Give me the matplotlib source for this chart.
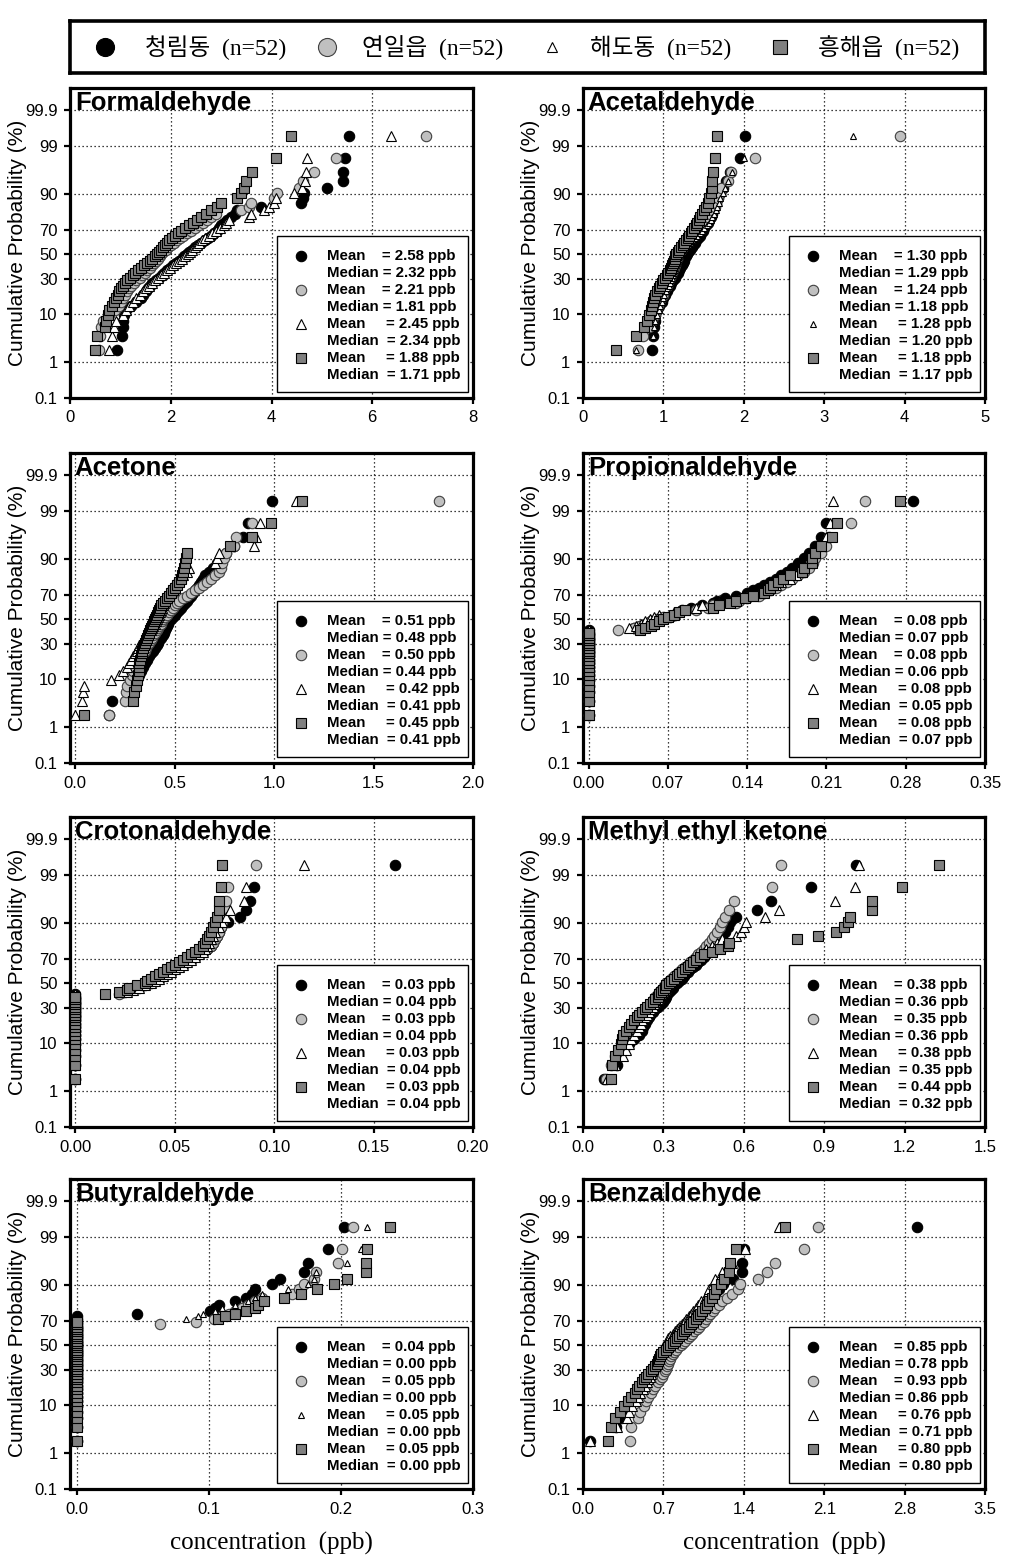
import numpy as np
import matplotlib
matplotlib.use("Agg")
import matplotlib.pyplot as plt
from matplotlib.patches import Rectangle
from statistics import NormalDist

# ---- data (sorted concentrations, ppb; 52 samples per site) ----
N = 52
TOP_PCT = 99.43  # where the 100 % point ends up on the probability axis

form_cr = [0.94, 1.03, 1.05, 1.06, 1.08, 1.12, 1.22, 1.32, 1.40, 1.45,
           1.50, 1.54, 1.58, 1.63, 1.70, 1.76, 1.82, 1.87, 1.92, 1.98,
           2.04, 2.10, 2.16, 2.22, 2.27, 2.32, 2.37, 2.42, 2.48, 2.54,
           2.60, 2.67, 2.73, 2.80, 2.86, 2.92, 2.96, 3.00, 3.05, 3.12,
           3.20, 3.27, 3.32, 3.80, 4.58, 4.62, 4.65, 5.10, 5.41, 5.41,
           5.45, 5.54]
form_yi = [0.58, 0.60, 0.62, 0.66, 0.78, 0.90, 0.98, 1.02, 1.06, 1.10,
           1.14, 1.18, 1.22, 1.27, 1.32, 1.38, 1.43, 1.48, 1.53, 1.58,
           1.62, 1.66, 1.70, 1.74, 1.78, 1.81, 1.85, 1.90, 1.95, 2.00,
           2.06, 2.12, 2.18, 2.25, 2.32, 2.40, 2.48, 2.56, 2.64, 2.72,
           2.80, 2.90, 3.40, 3.55, 3.60, 4.05, 4.10, 4.55, 4.62, 4.85,
           5.28, 7.07]
form_hd = [0.78, 0.83, 0.88, 0.92, 1.05, 1.12, 1.18, 1.25, 1.32, 1.38,
           1.44, 1.50, 1.56, 1.62, 1.68, 1.74, 1.80, 1.87, 1.93, 1.99,
           2.04, 2.10, 2.16, 2.22, 2.28, 2.34, 2.38, 2.43, 2.48, 2.52,
           2.57, 2.62, 2.68, 2.75, 2.82, 2.90, 2.98, 3.05, 3.10, 3.15,
           3.55, 3.60, 3.85, 3.95, 4.05, 4.08, 4.45, 4.60, 4.66, 4.68,
           4.70, 6.37]
form_hh = [0.50, 0.53, 0.70, 0.72, 0.75, 0.78, 0.83, 0.88, 0.92, 0.95,
           0.98, 1.02, 1.06, 1.10, 1.14, 1.20, 1.25, 1.30, 1.35, 1.40,
           1.46, 1.52, 1.58, 1.63, 1.68, 1.72, 1.76, 1.80, 1.84, 1.88,
           1.92, 1.97, 2.02, 2.08, 2.14, 2.20, 2.28, 2.36, 2.44, 2.52,
           2.60, 2.70, 2.80, 2.92, 3.00, 3.32, 3.40, 3.45, 3.50, 3.62,
           4.08, 4.39]

acet_cr = [0.86, 0.87, 0.88, 0.89, 0.90, 0.92, 0.95, 0.98, 1.00, 1.02,
           1.04, 1.06, 1.08, 1.10, 1.12, 1.14, 1.16, 1.18, 1.20, 1.21,
           1.23, 1.24, 1.25, 1.26, 1.28, 1.29, 1.31, 1.33, 1.35, 1.37,
           1.39, 1.41, 1.43, 1.45, 1.47, 1.49, 1.51, 1.53, 1.55, 1.57,
           1.59, 1.60, 1.61, 1.62, 1.65, 1.68, 1.71, 1.74, 1.78, 1.83,
           1.95, 2.02]
acet_yi = [0.68, 0.75, 0.82, 0.86, 0.89, 0.91, 0.93, 0.95, 0.97, 0.99,
           1.00, 1.02, 1.04, 1.05, 1.07, 1.08, 1.10, 1.11, 1.12, 1.13,
           1.14, 1.15, 1.16, 1.17, 1.17, 1.18, 1.20, 1.22, 1.24, 1.26,
           1.28, 1.30, 1.32, 1.34, 1.35, 1.37, 1.40, 1.44, 1.48, 1.52,
           1.55, 1.58, 1.61, 1.64, 1.66, 1.68, 1.70, 1.72, 1.80, 1.84,
           2.14, 3.94]
acet_hd = [0.66, 0.87, 0.88, 0.89, 0.92, 0.94, 0.96, 0.98, 1.00, 1.01,
           1.03, 1.05, 1.07, 1.08, 1.10, 1.11, 1.12, 1.13, 1.14, 1.15,
           1.16, 1.17, 1.18, 1.19, 1.20, 1.20, 1.22, 1.24, 1.27, 1.30,
           1.33, 1.36, 1.39, 1.42, 1.45, 1.48, 1.51, 1.54, 1.57, 1.59,
           1.61, 1.63, 1.65, 1.67, 1.69, 1.71, 1.74, 1.77, 1.80, 1.85,
           2.00, 3.36]
acet_hh = [0.41, 0.66, 0.76, 0.79, 0.82, 0.84, 0.86, 0.87, 0.88, 0.90,
           0.92, 0.94, 0.96, 0.98, 1.00, 1.02, 1.04, 1.06, 1.08, 1.09,
           1.11, 1.12, 1.13, 1.14, 1.15, 1.16, 1.18, 1.20, 1.22, 1.24,
           1.26, 1.28, 1.30, 1.32, 1.34, 1.36, 1.38, 1.40, 1.42, 1.44,
           1.46, 1.48, 1.50, 1.53, 1.55, 1.57, 1.59, 1.60, 1.61, 1.62,
           1.64, 1.67]

acetone_cr = [0.17, 0.185, 0.28, 0.30, 0.31, 0.32, 0.33, 0.34, 0.35, 0.36,
              0.37, 0.38, 0.39, 0.40, 0.41, 0.415, 0.42, 0.43, 0.44, 0.445,
              0.45, 0.455, 0.46, 0.465, 0.47, 0.48, 0.49, 0.50, 0.51, 0.52,
              0.53, 0.54, 0.55, 0.56, 0.57, 0.58, 0.59, 0.60, 0.61, 0.62,
              0.63, 0.64, 0.65, 0.67, 0.69, 0.71, 0.73, 0.76, 0.80, 0.845,
              0.87, 0.99]
acetone_yi = [0.17, 0.25, 0.255, 0.26, 0.275, 0.285, 0.29, 0.30, 0.31, 0.32,
              0.33, 0.34, 0.35, 0.355, 0.36, 0.37, 0.38, 0.385, 0.39, 0.40,
              0.41, 0.415, 0.42, 0.43, 0.435, 0.44, 0.45, 0.46, 0.47, 0.48,
              0.49, 0.50, 0.51, 0.52, 0.54, 0.56, 0.58, 0.60, 0.62, 0.64,
              0.66, 0.68, 0.70, 0.72, 0.73, 0.74, 0.75, 0.76, 0.80, 0.81,
              0.89, 1.83]
acetone_hd = [0.00, 0.035, 0.038, 0.045, 0.18, 0.22, 0.24, 0.26, 0.27, 0.28,
              0.29, 0.30, 0.31, 0.315, 0.32, 0.33, 0.34, 0.35, 0.36, 0.37,
              0.38, 0.385, 0.39, 0.40, 0.405, 0.41, 0.415, 0.42, 0.425, 0.43,
              0.435, 0.44, 0.445, 0.45, 0.455, 0.46, 0.465, 0.47, 0.48, 0.49,
              0.50, 0.52, 0.54, 0.56, 0.57, 0.70, 0.71, 0.72, 0.90, 0.91,
              0.93, 1.11]
acetone_hh = [0.045, 0.29, 0.295, 0.305, 0.31, 0.315, 0.318, 0.32, 0.322, 0.325,
              0.33, 0.333, 0.336, 0.34, 0.345, 0.35, 0.355, 0.36, 0.365, 0.37,
              0.375, 0.38, 0.385, 0.39, 0.395, 0.40, 0.405, 0.41, 0.415, 0.42,
              0.425, 0.43, 0.44, 0.45, 0.46, 0.47, 0.48, 0.49, 0.50, 0.51,
              0.52, 0.53, 0.535, 0.54, 0.545, 0.55, 0.555, 0.56, 0.78, 0.89,
              0.985, 1.14]

prop_cr = [0.0] * 21 + [0.04, 0.045, 0.05, 0.055, 0.065, 0.072, 0.076, 0.08, 0.082, 0.09,
                        0.10, 0.11, 0.113, 0.12, 0.13, 0.14, 0.145, 0.15, 0.155, 0.16,
                        0.165, 0.17, 0.175, 0.18, 0.185, 0.19, 0.195, 0.20, 0.205, 0.21,
                        0.286]
prop_yi = [0.0] * 20 + [0.026, 0.04, 0.045, 0.05, 0.055, 0.06, 0.066, 0.075, 0.08, 0.095,
                        0.105, 0.11, 0.13, 0.133, 0.14, 0.15, 0.155, 0.16, 0.165, 0.17,
                        0.175, 0.18, 0.185, 0.19, 0.195, 0.198, 0.20, 0.205, 0.21, 0.212,
                        0.232, 0.244]
prop_hd = [0.0] * 21 + [0.036, 0.042, 0.046, 0.05, 0.054, 0.058, 0.062, 0.075, 0.085, 0.095,
                        0.10, 0.115, 0.125, 0.135, 0.145, 0.15, 0.155, 0.16, 0.165, 0.17,
                        0.178, 0.183, 0.188, 0.19, 0.193, 0.196, 0.20, 0.205, 0.21, 0.213,
                        0.216]
prop_hh = [0.0] * 20 + [0.045, 0.05, 0.055, 0.058, 0.062, 0.066, 0.07, 0.075, 0.08, 0.085,
                        0.11, 0.115, 0.125, 0.13, 0.138, 0.145, 0.155, 0.158, 0.16, 0.163,
                        0.167, 0.172, 0.178, 0.188, 0.19, 0.197, 0.197, 0.20, 0.205, 0.215,
                        0.219, 0.275]

crot_cr = [0.0] * 21 + [0.024, 0.027, 0.03, 0.034, 0.037, 0.04, 0.042, 0.044, 0.046, 0.048,
                        0.05, 0.052, 0.054, 0.056, 0.058, 0.06, 0.062, 0.064, 0.066, 0.068,
                        0.069, 0.07, 0.071, 0.072, 0.073, 0.077, 0.083, 0.086, 0.088, 0.090,
                        0.161]
crot_yi = [0.0] * 20 + [0.022, 0.025, 0.028, 0.032, 0.035, 0.038, 0.04, 0.042, 0.044, 0.046,
                        0.048, 0.05, 0.052, 0.054, 0.056, 0.058, 0.06, 0.062, 0.064, 0.066,
                        0.068, 0.069, 0.07, 0.071, 0.072, 0.073, 0.074, 0.075, 0.076, 0.076,
                        0.077, 0.091]
crot_hd = [0.0] * 21 + [0.026, 0.029, 0.032, 0.035, 0.038, 0.04, 0.042, 0.044, 0.046, 0.048,
                        0.05, 0.052, 0.054, 0.056, 0.058, 0.06, 0.062, 0.064, 0.065, 0.066,
                        0.067, 0.068, 0.069, 0.07, 0.072, 0.074, 0.076, 0.078, 0.085, 0.086,
                        0.115]
crot_hh = [0.0] * 20 + [0.015, 0.022, 0.026, 0.027, 0.031, 0.035, 0.036, 0.038, 0.040, 0.042,
                        0.044, 0.046, 0.048, 0.05, 0.052, 0.054, 0.056, 0.058, 0.06, 0.062,
                        0.064, 0.065, 0.066, 0.067, 0.068, 0.069, 0.070, 0.071, 0.072, 0.072,
                        0.073, 0.074]

mek_cr = [0.08, 0.125, 0.13, 0.15, 0.17, 0.19, 0.21, 0.22, 0.225, 0.23,
          0.24, 0.245, 0.25, 0.26, 0.27, 0.28, 0.29, 0.30, 0.305, 0.31,
          0.315, 0.32, 0.33, 0.335, 0.34, 0.35, 0.36, 0.37, 0.375, 0.38,
          0.39, 0.40, 0.41, 0.42, 0.43, 0.44, 0.45, 0.46, 0.47, 0.48,
          0.49, 0.50, 0.51, 0.52, 0.53, 0.54, 0.55, 0.57, 0.65, 0.70,
          0.85, 1.02]
mek_yi = [0.087, 0.105, 0.12, 0.14, 0.16, 0.17, 0.18, 0.19, 0.195, 0.20,
          0.21, 0.215, 0.22, 0.23, 0.24, 0.25, 0.255, 0.26, 0.265, 0.27,
          0.28, 0.285, 0.29, 0.30, 0.305, 0.31, 0.32, 0.33, 0.34, 0.35,
          0.36, 0.37, 0.38, 0.39, 0.40, 0.41, 0.42, 0.43, 0.44, 0.45,
          0.46, 0.47, 0.48, 0.49, 0.50, 0.51, 0.52, 0.53, 0.545, 0.565,
          0.705, 0.74]
mek_hd = [0.09, 0.12, 0.15, 0.16, 0.17, 0.18, 0.19, 0.20, 0.21, 0.215,
          0.22, 0.23, 0.24, 0.245, 0.25, 0.26, 0.265, 0.27, 0.28, 0.285,
          0.29, 0.30, 0.305, 0.31, 0.315, 0.32, 0.33, 0.34, 0.35, 0.36,
          0.37, 0.38, 0.39, 0.40, 0.41, 0.42, 0.43, 0.44, 0.45, 0.46,
          0.48, 0.50, 0.52, 0.57, 0.59, 0.60, 0.61, 0.68, 0.73, 0.94,
          1.015, 1.03]
mek_hh = [0.105, 0.11, 0.118, 0.13, 0.14, 0.145, 0.15, 0.16, 0.17, 0.18,
          0.19, 0.20, 0.21, 0.22, 0.23, 0.24, 0.25, 0.26, 0.27, 0.28,
          0.285, 0.29, 0.30, 0.305, 0.31, 0.32, 0.33, 0.34, 0.35, 0.36,
          0.37, 0.38, 0.39, 0.40, 0.41, 0.42, 0.435, 0.45, 0.48, 0.51,
          0.54, 0.545, 0.80, 0.875, 0.945, 0.975, 0.99, 0.995, 1.08, 1.08,
          1.19, 1.327]

buty_cr = [0.0] * 38 + [0.046, 0.101, 0.105, 0.108, 0.12, 0.128, 0.133, 0.135, 0.148, 0.154,
                        0.172, 0.175, 0.19, 0.2025]
buty_yi = [0.0] * 34 + [0.063, 0.09, 0.104, 0.11, 0.115, 0.12, 0.125, 0.13, 0.135, 0.14,
                        0.163, 0.168, 0.172, 0.18, 0.181, 0.198, 0.201, 0.209]
buty_hd = [0.0] * 36 + [0.083, 0.092, 0.096, 0.105, 0.11, 0.12, 0.13, 0.135, 0.14, 0.16,
                        0.175, 0.18, 0.181, 0.205, 0.215, 0.22]
buty_hh = [0.0] * 36 + [0.107, 0.112, 0.12, 0.128, 0.135, 0.137, 0.142, 0.157, 0.17, 0.182,
                        0.195, 0.205, 0.219, 0.219, 0.22, 0.237]

benz_cr = [0.06, 0.29, 0.33, 0.36, 0.39, 0.42, 0.45, 0.48, 0.51, 0.53,
           0.55, 0.57, 0.59, 0.61, 0.63, 0.65, 0.66, 0.67, 0.68, 0.69,
           0.70, 0.72, 0.73, 0.74, 0.76, 0.78, 0.79, 0.80, 0.82, 0.84,
           0.86, 0.88, 0.90, 0.92, 0.94, 0.96, 0.98, 1.00, 1.02, 1.04,
           1.06, 1.08, 1.10, 1.12, 1.15, 1.18, 1.22, 1.31, 1.38, 1.38,
           1.40, 2.91]
benz_yi = [0.41, 0.42, 0.48, 0.50, 0.53, 0.55, 0.57, 0.59, 0.61, 0.63,
           0.65, 0.67, 0.69, 0.70, 0.71, 0.72, 0.73, 0.74, 0.75, 0.76,
           0.77, 0.78, 0.79, 0.81, 0.83, 0.85, 0.87, 0.89, 0.91, 0.93,
           0.95, 0.97, 0.99, 1.01, 1.03, 1.05, 1.07, 1.09, 1.11, 1.13,
           1.15, 1.18, 1.21, 1.25, 1.30, 1.35, 1.37, 1.52, 1.60, 1.67,
           1.92, 2.05]
benz_hd = [0.06, 0.30, 0.38, 0.40, 0.43, 0.46, 0.48, 0.50, 0.52, 0.54,
           0.56, 0.57, 0.58, 0.59, 0.60, 0.61, 0.62, 0.63, 0.64, 0.65,
           0.66, 0.67, 0.68, 0.69, 0.70, 0.71, 0.72, 0.73, 0.74, 0.76,
           0.78, 0.80, 0.82, 0.84, 0.86, 0.88, 0.90, 0.92, 0.94, 0.96,
           0.98, 1.00, 1.03, 1.06, 1.08, 1.10, 1.13, 1.15, 1.21, 1.30,
           1.41, 1.71]
benz_hh = [0.22, 0.24, 0.28, 0.32, 0.36, 0.39, 0.42, 0.45, 0.47, 0.49,
           0.51, 0.53, 0.55, 0.57, 0.59, 0.61, 0.63, 0.64, 0.65, 0.66,
           0.67, 0.68, 0.70, 0.72, 0.74, 0.76, 0.78, 0.80, 0.82, 0.84,
           0.86, 0.88, 0.90, 0.92, 0.94, 0.96, 0.98, 1.00, 1.02, 1.04,
           1.06, 1.08, 1.10, 1.12, 1.14, 1.16, 1.20, 1.23, 1.27, 1.28,
           1.33, 1.76]

# (mean, median) per site, order: 청림동, 연일읍, 해도동, 흥해읍
form_stats = [(2.58, 2.32), (2.21, 1.81), (2.45, 2.34), (1.88, 1.71)]
acet_stats = [(1.30, 1.29), (1.24, 1.18), (1.28, 1.20), (1.18, 1.17)]
acetone_stats = [(0.51, 0.48), (0.50, 0.44), (0.42, 0.41), (0.45, 0.41)]
prop_stats = [(0.08, 0.07), (0.08, 0.06), (0.08, 0.05), (0.08, 0.07)]
crot_stats = [(0.03, 0.04), (0.03, 0.04), (0.03, 0.04), (0.03, 0.04)]
mek_stats = [(0.38, 0.36), (0.35, 0.36), (0.38, 0.35), (0.44, 0.32)]
buty_stats = [(0.04, 0.00), (0.05, 0.00), (0.05, 0.00), (0.05, 0.00)]
benz_stats = [(0.85, 0.78), (0.93, 0.86), (0.76, 0.71), (0.80, 0.80)]

sites = ["청림동", "연일읍", "해도동", "흥해읍"]
prob_ticks = [0.1, 1, 10, 30, 50, 70, 90, 99, 99.9]
prob_labels = ["0.1", "1", "10", "30", "50", "70", "90", "99", "99.9"]

# title, series, stats, xlim, xticks, tick format, small triangles?
panels = [
    ("Formaldehyde", [form_cr, form_yi, form_hd, form_hh], form_stats,
     (0, 8), [0, 2, 4, 6, 8], "{:.0f}", False),
    ("Acetaldehyde", [acet_cr, acet_yi, acet_hd, acet_hh], acet_stats,
     (0, 5), [0, 1, 2, 3, 4, 5], "{:.0f}", True),
    ("Acetone", [acetone_cr, acetone_yi, acetone_hd, acetone_hh], acetone_stats,
     (-0.027, 2.0), [0.0, 0.5, 1.0, 1.5, 2.0], "{:.1f}", False),
    ("Propionaldehyde", [prop_cr, prop_yi, prop_hd, prop_hh], prop_stats,
     (-0.005, 0.35), [0.0, 0.07, 0.14, 0.21, 0.28, 0.35], "{:.2f}", False),
    ("Crotonaldehyde", [crot_cr, crot_yi, crot_hd, crot_hh], crot_stats,
     (-0.0027, 0.20), [0.0, 0.05, 0.10, 0.15, 0.20], "{:.2f}", False),
    ("Methyl ethyl ketone", [mek_cr, mek_yi, mek_hd, mek_hh], mek_stats,
     (0, 1.5), [0.0, 0.3, 0.6, 0.9, 1.2, 1.5], "{:.1f}", False),
    ("Butyraldehyde", [buty_cr, buty_yi, buty_hd, buty_hh], buty_stats,
     (-0.005, 0.3), [0.0, 0.1, 0.2, 0.3], "{:.1f}", True),
    ("Benzaldehyde", [benz_cr, benz_yi, benz_hd, benz_hh], benz_stats,
     (0, 3.5), [0.0, 0.7, 1.4, 2.1, 2.8, 3.5], "{:.1f}", False),
]

# ---- normal probability scale ----
_nd = NormalDist()
_ppf = np.vectorize(_nd.inv_cdf, otypes=[float])
_cdf = np.vectorize(_nd.cdf, otypes=[float])


def pct_to_z(p):
    p = np.clip(np.asarray(p, dtype=float) / 100.0, 1e-9, 1 - 1e-9)
    return _ppf(p)


def z_to_pct(z):
    return 100.0 * _cdf(np.asarray(z, dtype=float))


ranks = np.arange(1, N + 1)
cum_pct = np.minimum(100.0 * ranks / N, TOP_PCT)

styles = [
    dict(marker="o", mfc="black", mec="black", mew=0.8, ms=7.5),
    dict(marker="o", mfc="#c0c0c0", mec="#404040", mew=0.8, ms=7.5),
    dict(marker="^", mfc="white", mec="black", mew=0.8, ms=7.5),
    dict(marker="s", mfc="#808080", mec="black", mew=0.8, ms=7.0),
]
SMALL_TRI = 5.0

SANS = "Liberation Sans"
SERIF = "Liberation Serif"

FIG_W, FIG_H = 1019, 1562
fig = plt.figure(figsize=(FIG_W / 100, FIG_H / 100), dpi=100)


def px_axes(left, top, width, height):
    return fig.add_axes([left / FIG_W, 1 - (top + height) / FIG_H,
                         width / FIG_W, height / FIG_H])


col_left = [70, 583]
col_width = [403, 402]
row_top = [88, 453, 817, 1179]
AX_H = 310

for k, (title, series, stats, xlim, xticks, fmt, small_tri) in enumerate(panels):
    r, c = divmod(k, 2)
    ax = px_axes(col_left[c], row_top[r], col_width[c], AX_H)
    ax.set_yscale("function", functions=(pct_to_z, z_to_pct))
    ax.set_ylim(0.1, 99.982)
    ax.set_xlim(*xlim)
    ax.set_yticks(prob_ticks)
    ax.set_yticklabels(prob_labels)
    ax.yaxis.set_minor_locator(matplotlib.ticker.NullLocator())
    ax.set_xticks(xticks)
    ax.set_xticklabels([fmt.format(v) for v in xticks])
    ax.xaxis.set_minor_locator(matplotlib.ticker.NullLocator())
    ax.grid(True, linestyle=(0, (1, 2.2)), color="black", linewidth=0.9)
    ax.set_axisbelow(True)
    for sp in ax.spines.values():
        sp.set_linewidth(2.3)
    ax.tick_params(direction="out", length=4, width=1.6, labelsize=12, pad=5)
    for lab in ax.get_xticklabels() + ax.get_yticklabels():
        lab.set_fontfamily(SANS)

    for s, st in zip(series, styles):
        st = dict(st)
        if small_tri and st["marker"] == "^":
            st["ms"] = SMALL_TRI
        ax.plot(s, cum_pct, linestyle="none", zorder=3, **st)

    ax.text(0.012, 0.99, title, transform=ax.transAxes, ha="left", va="top",
            fontsize=18.5, fontweight="bold", family=SANS, zorder=6)

    # stats box
    bx0, by0, bw, bh = 0.513, 0.02, 0.474, 0.502
    ax.add_patch(Rectangle((bx0, by0), bw, bh, transform=ax.transAxes,
                           facecolor="white", edgecolor="black", lw=1.0, zorder=4))
    y0 = by0 + bh - 20 / AX_H
    dy = 17 / AX_H
    for i, ((mean, med), st) in enumerate(zip(stats, styles)):
        st = dict(st)
        if small_tri and st["marker"] == "^":
            st["ms"] = SMALL_TRI
        ym = y0 - 2 * i * dy
        ax.plot([0.573], [ym], transform=ax.transAxes, linestyle="none",
                clip_on=False, zorder=6, **st)
        pad_mean = "    " if i < 2 else "     "
        pad_med = " " if i < 2 else "  "
        ax.text(0.637, ym, f"Mean{pad_mean}= {mean:.2f} ppb", transform=ax.transAxes,
                ha="left", va="center", fontsize=10.8, fontweight="bold",
                family=SANS, zorder=6)
        ax.text(0.637, ym - dy, f"Median{pad_med}= {med:.2f} ppb", transform=ax.transAxes,
                ha="left", va="center", fontsize=10.8, fontweight="bold",
                family=SANS, zorder=6)

    ax.set_ylabel("Cumulative Probability (%)", fontsize=15, family=SANS, va="center")
    ax.yaxis.set_label_coords(-52 / col_width[c], 0.5)
    if r == 3:
        ax.set_xlabel("concentration  (ppb)", fontsize=18, family=SERIF, va="center")
        ax.xaxis.set_label_coords(0.5, -54 / AX_H)

# ---- legend across the top ----
lg = px_axes(70, 21, 915, 52)
lg.set_xlim(0, 915)
lg.set_ylim(52, 0)
lg.set_xticks([])
lg.set_yticks([])
for sp in lg.spines.values():
    sp.set_linewidth(2.6)
leg_marker_x = [105, 327, 552, 780]
leg_text_x = [145, 362, 590, 818]
leg_ms = [13, 13, 7, 9.5]
for name, st, mx, tx, ms in zip(sites, styles, leg_marker_x, leg_text_x, leg_ms):
    st = dict(st)
    st["ms"] = ms
    lg.plot([mx - 70], [26], linestyle="none", **st)
    lg.text(tx - 70, 27, f"{name}  (n={N})", ha="left", va="center", fontsize=17,
            family=[SERIF, "Noto Sans CJK KR"])

fig.savefig("out.png", dpi=100)
